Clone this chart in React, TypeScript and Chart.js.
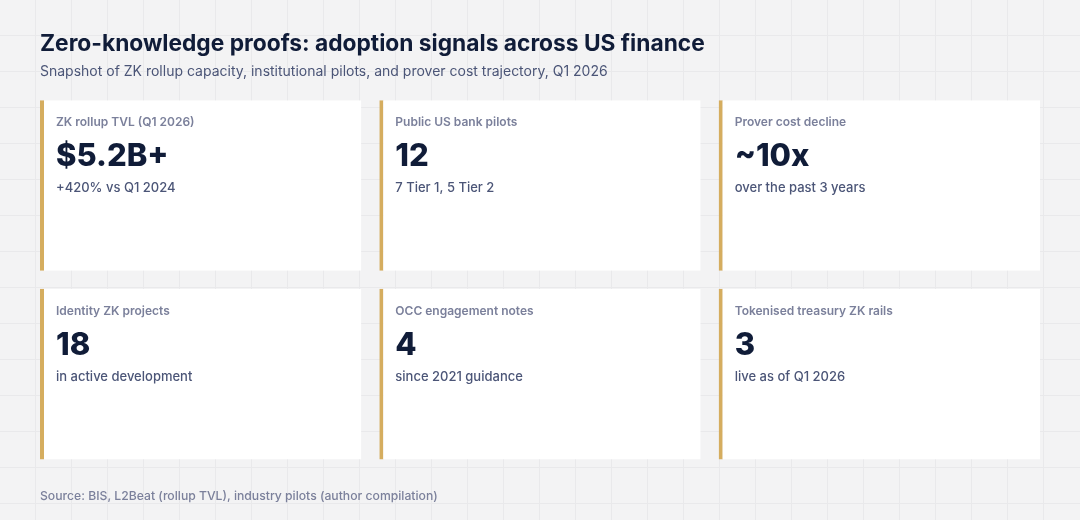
import React, { useEffect, useRef } from 'react';
import { Chart, ChartConfiguration, Plugin, registerables } from 'chart.js';

Chart.register(...registerables);

const TITLE = 'Zero-knowledge proofs: adoption signals across US finance';
const SUBTITLE = 'Snapshot of ZK rollup capacity, institutional pilots, and prover cost trajectory, Q1 2026';
const SOURCE = 'Source: BIS, L2Beat (rollup TVL), industry pilots (author compilation)';

// card grid: two rows of three KPI tiles
const rows = ['Row 1', 'Row 2'];
const cardRows = [0, 0, 0, 1, 1, 1];
const cardCols = [0, 1, 2, 0, 1, 2];
const cardLabels = [
    'ZK rollup TVL (Q1 2026)',
    'Public US bank pilots',
    'Prover cost decline',
    'Identity ZK projects',
    'OCC engagement notes',
    'Tokenised treasury ZK rails'
];
const cardValues = ['$5.2B+', '12', '~10x', '18', '4', '3'];
const cardNotes = [
    '+420% vs Q1 2024',
    '7 Tier 1, 5 Tier 2',
    'over the past 3 years',
    'in active development',
    'since 2021 guidance',
    'live as of Q1 2026'
];

const FONT = 'Inter, "Noto Sans", sans-serif';
const BG = '#f3f3f4';
const GRID = '#e9e9eb';
const NAVY = '#101c38';
const SLATE = '#4b5577';
const MUTED = '#7b809b';
const GOLD = '#d5ad5f';

// horizontal gap between tiles, as a share of one column
const COL_INSET = 9 / 339.33;

const backdrop: Plugin<'bar'> = {
    id: 'backdrop',
    beforeDraw(chart) {
        const { ctx, width, height } = chart;
        ctx.save();
        ctx.fillStyle = BG;
        ctx.fillRect(0, 0, width, height);
        ctx.strokeStyle = GRID;
        ctx.lineWidth = 1;
        ctx.beginPath();
        for (let x = 36; x < width; x += 36) {
            ctx.moveTo(x - 0.5, 0);
            ctx.lineTo(x - 0.5, height);
        }
        for (let y = 36; y < height; y += 36) {
            ctx.moveTo(0, y - 0.5);
            ctx.lineTo(width, y - 0.5);
        }
        ctx.stroke();
        ctx.restore();
    }
};

const cardText: Plugin<'bar'> = {
    id: 'cardText',
    afterDatasetsDraw(chart) {
        const { ctx } = chart;
        const meta = chart.getDatasetMeta(0);
        meta.data.forEach((bar, i) => {
            const { x, y, base, height } = bar.getProps(['x', 'y', 'base', 'height'], true) as any;
            const left = Math.min(x, base);
            const top = y - height / 2;
            const tx = left + 16;
            ctx.save();
            ctx.textAlign = 'left';
            ctx.textBaseline = 'alphabetic';
            ctx.fillStyle = MUTED;
            ctx.font = `600 12px ${FONT}`;
            ctx.fillText(cardLabels[i], tx, top + 26);
            ctx.fillStyle = NAVY;
            ctx.font = `800 31px ${FONT}`;
            ctx.fillText(cardValues[i], tx, top + 66);
            ctx.fillStyle = SLATE;
            ctx.font = `500 13px ${FONT}`;
            ctx.fillText(cardNotes[i], tx, top + 92);
            ctx.restore();
        });
    }
};

const App: React.FC = () => {
    const canvasRef = useRef<HTMLCanvasElement>(null);

    useEffect(() => {
        document.body.style.margin = '0';
        const ctx = canvasRef.current?.getContext('2d');
        if (!ctx) return;

        const config: ChartConfiguration<'bar', any[], string> = {
            type: 'bar',
            data: {
                labels: rows,
                datasets: [
                    {
                        data: cardCols.map((c, i) => ({
                            x: [c + COL_INSET, c + 1 - COL_INSET],
                            y: rows[cardRows[i]]
                        })),
                        backgroundColor: '#ffffff',
                        borderColor: GOLD,
                        borderWidth: { left: 4, right: 0, top: 0, bottom: 0 },
                        borderSkipped: false,
                        inflateAmount: 0,
                        categoryPercentage: 1,
                        barPercentage: 171 / 189
                    }
                ]
            },
            options: {
                indexAxis: 'y',
                animation: false,
                responsive: true,
                maintainAspectRatio: false,
                events: [],
                layout: { padding: { top: 31, left: 40, right: 40, bottom: 0 } },
                plugins: {
                    legend: { display: false },
                    tooltip: { enabled: false },
                    title: {
                        display: true,
                        text: TITLE,
                        align: 'start',
                        color: NAVY,
                        font: { family: FONT, size: 22.75, weight: 'bold', lineHeight: 1.16 },
                        padding: { top: 0, bottom: 4 }
                    },
                    subtitle: {
                        display: true,
                        text: SUBTITLE,
                        align: 'start',
                        color: SLATE,
                        font: { family: FONT, size: 14, weight: 'normal', lineHeight: 1.2 },
                        padding: { top: 2, bottom: 11 }
                    }
                },
                scales: {
                    x: {
                        type: 'linear',
                        min: COL_INSET,
                        max: 3 - COL_INSET,
                        grid: { display: false, drawTicks: false, tickLength: 0 },
                        border: { display: false },
                        ticks: { display: false },
                        title: {
                            display: true,
                            text: SOURCE,
                            align: 'start',
                            color: MUTED,
                            font: { family: FONT, size: 12.2, weight: 500, lineHeight: 1.2 },
                            padding: { top: 21, bottom: 16 }
                        }
                    },
                    y: {
                        type: 'category',
                        display: false
                    }
                }
            },
            plugins: [backdrop, cardText]
        };

        const chart = new Chart(ctx, config);
        return () => {
            chart.destroy();
        };
    }, []);

    return (
        <div style={{ position: 'relative', width: 1080, height: 520 }}>
            <canvas ref={canvasRef} />
        </div>
    );
};

export default App;
